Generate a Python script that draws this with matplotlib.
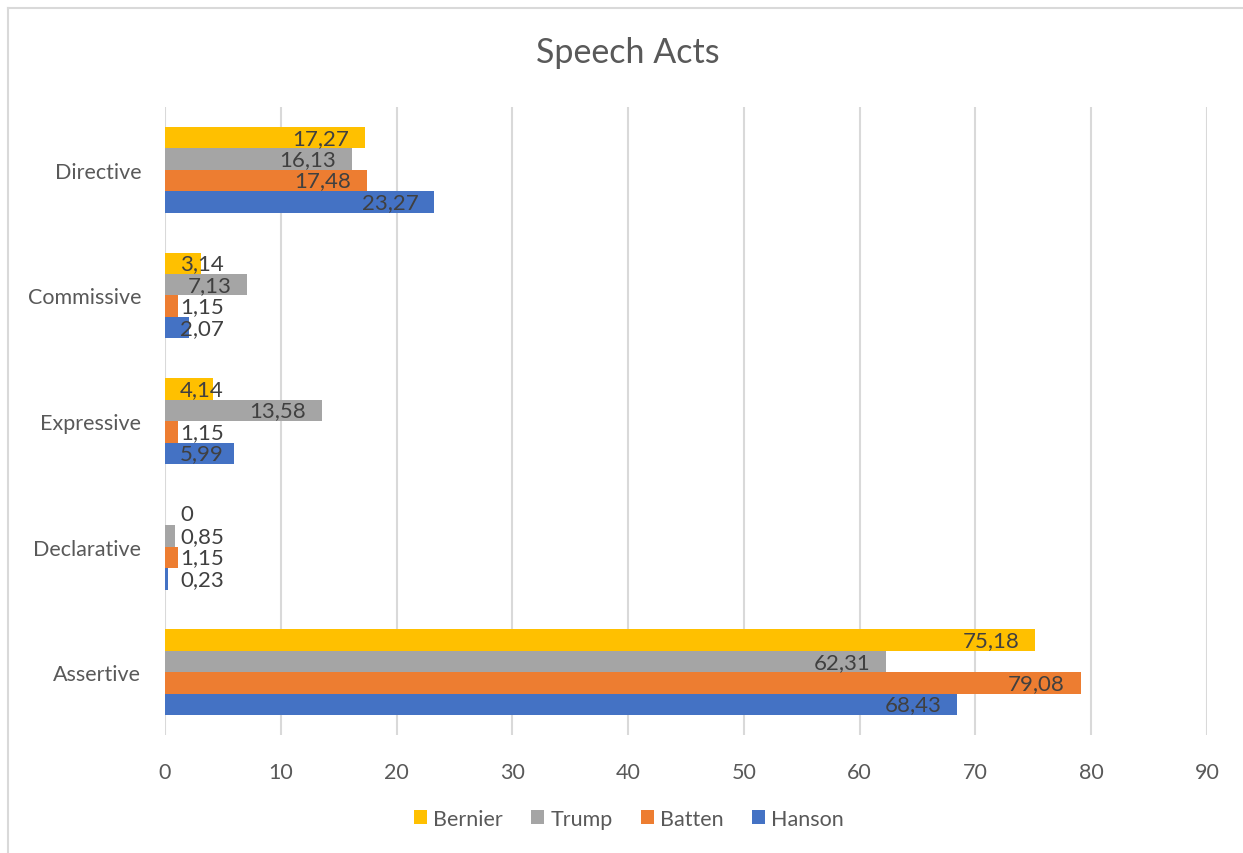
import numpy as np
import matplotlib.pyplot as plt
from matplotlib.lines import Line2D

plt.rcParams['font.family'] = ['Lato', 'DejaVu Sans']

categories = ["Assertive", "Declarative", "Expressive", "Commissive", "Directive"]
series = ["Hanson", "Batten", "Trump", "Bernier"]
hanson = [68.43, 0.23, 5.99, 2.07, 23.27]
batten = [79.08, 1.15, 1.15, 1.15, 17.48]
trump = [62.31, 0.85, 13.58, 7.13, 16.13]
bernier = [75.18, 0, 4.14, 3.14, 17.27]
colors = ["#4472C4", "#ED7D31", "#A5A5A5", "#FFC000"]

values = [hanson, batten, trump, bernier]

fig = plt.figure(figsize=(12.43, 8.54), dpi=100)
ax = fig.add_axes([0.1327, 0.138, 0.971 - 0.1327, 0.8735 - 0.138])

y = np.arange(len(categories))
h = 0.171
offsets = (np.arange(4) - 1.5) * h

bars = []
for i in range(4):
    b = ax.barh(y + offsets[i], values[i], height=h, color=colors[i], label=series[i], zorder=2)
    bars.append(b)

ax.set_xlim(0, 90)
ax.set_ylim(-0.5, len(categories) - 0.5)
ax.set_xticks(np.arange(0, 91, 10))
ax.set_yticks(y)
ax.set_yticklabels(categories)
ax.grid(axis='x', color='#D9D9D9', linewidth=1.5, zorder=0)
ax.set_axisbelow(True)
for s in ax.spines.values():
    s.set_visible(False)
ax.tick_params(axis='both', length=0, labelsize=15.5, labelcolor='#595959')
ax.tick_params(axis='x', pad=19)
ax.tick_params(axis='y', pad=17)

fig.text(0.505, 1 - 53 / 854, "Speech Acts", ha='center', va='center', fontsize=24.5, color='#595959')

# data labels, Excel "inside end" style
fig.canvas.draw()
renderer = fig.canvas.get_renderer()
px_per_unit = ax.transData.transform((1, 0))[0] - ax.transData.transform((0, 0))[0]
for i in range(4):
    for j, v in enumerate(values[i]):
        txt = ("%g" % v).replace(".", ",")
        yy = y[j] + offsets[i]
        t = ax.text(0, yy, txt, fontsize=16, color='#404040', va='center')
        w = t.get_window_extent(renderer).width
        t.remove()
        if v * px_per_unit > w + 31:
            ax.annotate(txt, (v, yy), xytext=(-11.5, 0), textcoords='offset points',
                        ha='right', va='center', fontsize=16, color='#404040', zorder=3)
        else:
            ax.annotate(txt, (0, yy), xytext=(10.8, 0), textcoords='offset points',
                        ha='left', va='center', fontsize=16, color='#404040', zorder=3)

handles = [bars[3], bars[2], bars[1], bars[0]]
labels = ["Bernier", "Trump", "Batten", "Hanson"]
fig.legend(handles, labels, loc='center', bbox_to_anchor=(0.506, 0.04), ncol=4,
           frameon=False, fontsize=15.5, labelcolor='#595959', handlelength=0.6,
           handleheight=0.6, handletextpad=0.3, columnspacing=1.3)

# chart area border
fig.add_artist(Line2D([8 / 1243, 8 / 1243], [0, 1 - 9 / 854], transform=fig.transFigure,
                      color='#D9D9D9', linewidth=1.5))
fig.add_artist(Line2D([8 / 1243, 1], [1 - 9 / 854, 1 - 9 / 854], transform=fig.transFigure,
                      color='#D9D9D9', linewidth=1.5))

fig.savefig("out.png", dpi=100)
